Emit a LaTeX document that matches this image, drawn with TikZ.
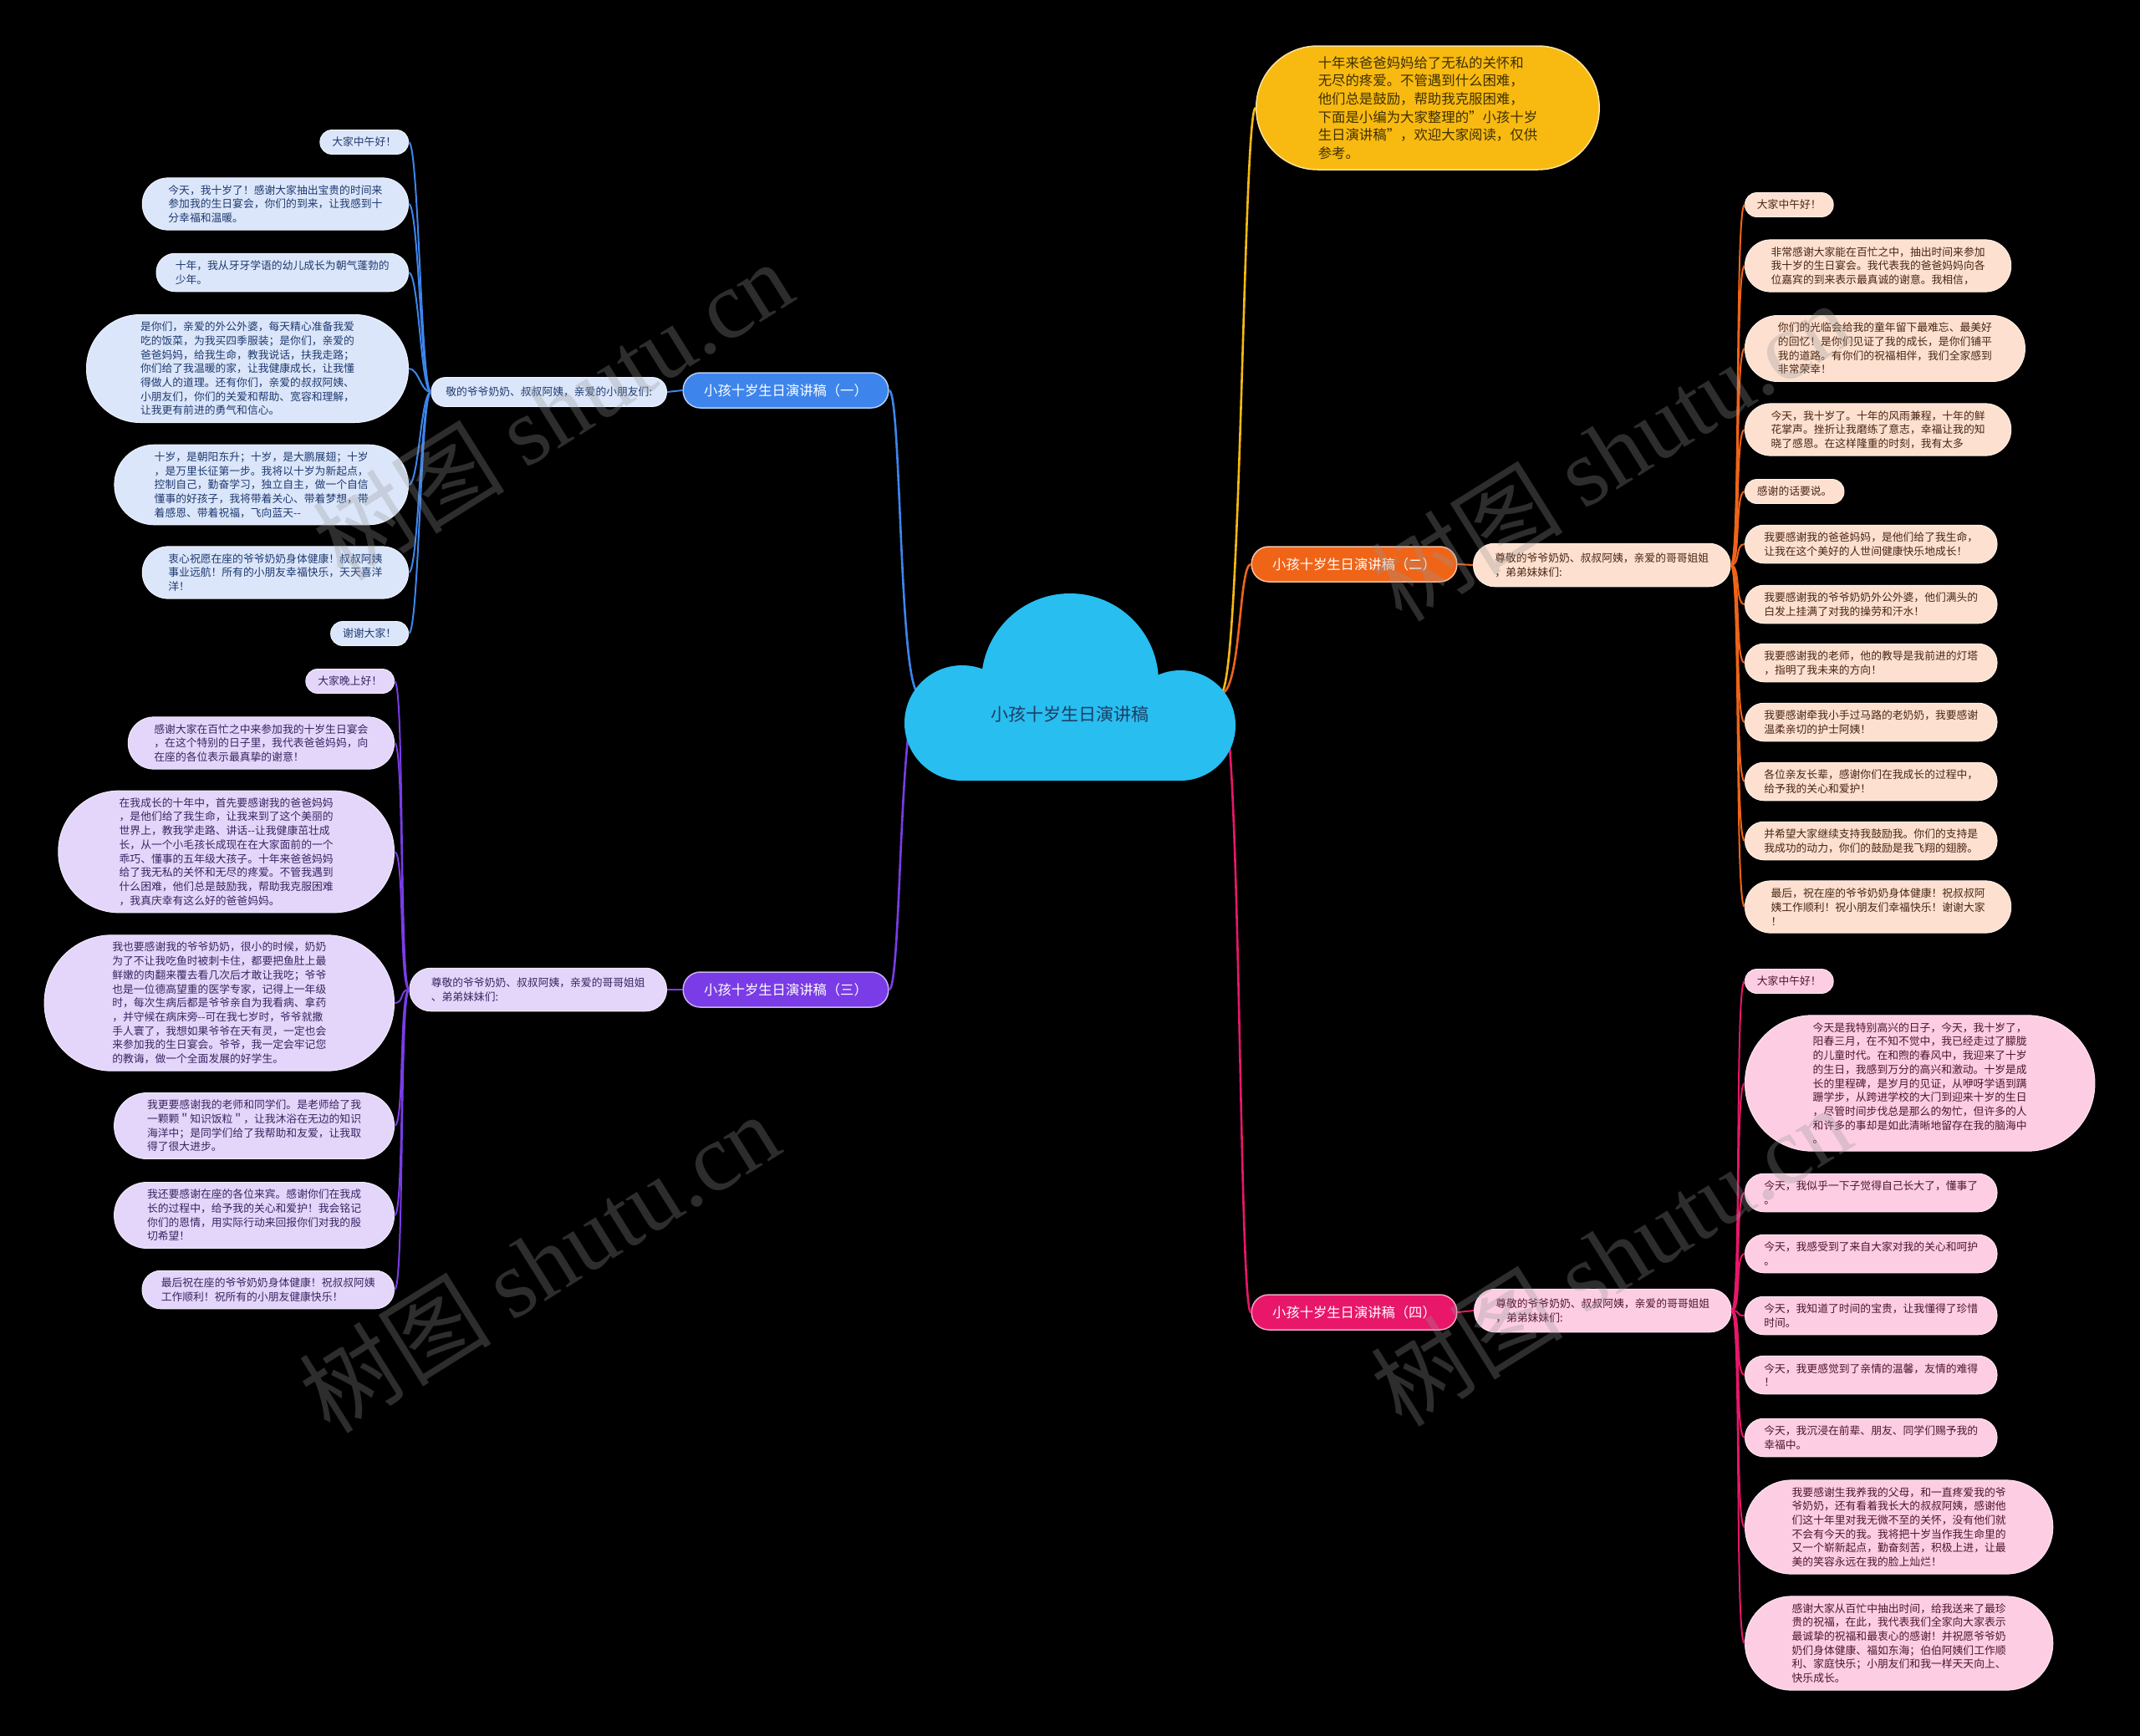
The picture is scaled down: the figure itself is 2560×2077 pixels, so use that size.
\documentclass[tikz,border=0pt]{standalone}
\usepackage{fontspec}
\setmainfont{Noto Sans CJK SC}
\newfontfamily\wmlatin{Liberation Serif}
\usepackage{tikz}
\usetikzlibrary{positioning}

\definecolor{cloudblue}{HTML}{28BEF0}
\definecolor{roottext}{HTML}{1C3D63}
\definecolor{bluemain}{HTML}{3D85EC}
\definecolor{bluefill}{HTML}{DCE6FA}
\definecolor{bluetext}{HTML}{1E3A70}
\definecolor{purplemain}{HTML}{7A3CE6}
\definecolor{purplefill}{HTML}{E3D6FA}
\definecolor{purpletext}{HTML}{3A2461}
\definecolor{orangemain}{HTML}{F06418}
\definecolor{orangefill}{HTML}{FDE0CF}
\definecolor{orangetext}{HTML}{4A2515}
\definecolor{pinkmain}{HTML}{E8176A}
\definecolor{pinkfill}{HTML}{FCCDE3}
\definecolor{pinktext}{HTML}{4F1530}
\definecolor{yellowmain}{HTML}{F8BA10}
\definecolor{yellowtext}{HTML}{3F3000}
\definecolor{wmgray}{RGB}{150,150,150}

\newcommand\leaffont{\fontsize{12.8}{16.7}\selectfont}
\newcommand\branchfont{\fontsize{16.3}{18}\selectfont}
\newcommand\rootfont{\fontsize{21}{24}\selectfont}
\newcommand\notefont{\fontsize{16.4}{21.7}\selectfont}

\tikzset{
  % #1 = number of text lines
  leaf/.style={rectangle, align=left, font=\leaffont, line width=1pt, inner ysep=0pt,
    minimum height={(#1-1)*16.7pt+28.8pt},
    inner xsep={(#1-1)*8.35pt+14.4pt},
    rounded corners={(#1-1)*8.35pt+14pt}},
  leaf/.default=1,
  greet/.style={rectangle, align=left, font=\leaffont, line width=1pt, inner ysep=0pt,
    minimum height={(#1-1)*16.7pt+34.8pt},
    inner xsep={(#1-1)*8.35pt+17.4pt},
    rounded corners={(#1-1)*8.35pt+17pt}},
  greet/.default=1,
  branch/.style={rectangle, rounded corners=20.5pt, minimum height=42pt, inner ysep=0pt,
    inner xsep=25pt, font=\branchfont, text=white, line width=1.5pt},
  blueleaf/.style={fill=bluefill, draw=bluefill!50!white, text=bluetext},
  purpleleaf/.style={fill=purplefill, draw=purplefill!50!white, text=purpletext},
  orangeleaf/.style={fill=orangefill, draw=orangefill!50!white, text=orangetext},
  pinkleaf/.style={fill=pinkfill, draw=pinkfill!50!white, text=pinktext},
  link/.style={line width=2pt},
  mainlink/.style={line width=2.6pt},
  watermark/.style={rotate=32, text=wmgray, text opacity=0.3, font=\fontsize{115}{115}\selectfont},
}

\begin{document}
\begin{tikzpicture}[x=1pt,y=-1pt]
\fill[black] (0,0) rectangle (2560,2077);
\useasboundingbox (0,0) rectangle (2560,2077);

% branch nodes
\node[branch, fill=bluemain, draw=bluemain!40!white] (one) at (940,467) {小孩十岁生日演讲稿（一）};
\node[branch, fill=orangemain, draw=orangemain!40!white] (two) at (1620,675) {小孩十岁生日演讲稿（二）};
\node[branch, fill=purplemain, draw=purplemain!40!white] (three) at (940,1184) {小孩十岁生日演讲稿（三）};
\node[branch, fill=pinkmain, draw=pinkmain!40!white] (four) at (1620,1570) {小孩十岁生日演讲稿（四）};

\node[rectangle, rounded corners=73.5pt, minimum height=148pt, inner ysep=0pt, inner xsep=74pt,
  fill=yellowmain, draw=yellowmain!40!white, line width=1.5pt, text=yellowtext,
  font=\notefont, align=left, anchor=west] (intro) at (1502,129)
  {十年来爸爸妈妈给了无私的关怀和\\无尽的疼爱。不管遇到什么困难，\\他们总是鼓励，帮助我克服困难，\\下面是小编为大家整理的"小孩十岁\\生日演讲稿"，欢迎大家阅读，仅供\\参考。};

% greetings
\node[greet, blueleaf, anchor=east] (greet1) at (798,469) {敬的爷爷奶奶、叔叔阿姨，亲爱的小朋友们:};
\node[greet=2, orangeleaf, anchor=west] (greet2) at (1762,676) {尊敬的爷爷奶奶、叔叔阿姨，亲爱的哥哥姐姐\\，弟弟妹妹们:};
\node[greet=2, purpleleaf, anchor=east] (greet3) at (798,1184) {尊敬的爷爷奶奶、叔叔阿姨，亲爱的哥哥姐姐\\、弟弟妹妹们:};
\node[greet=2, pinkleaf, anchor=west] (greet4) at (1763,1568) {尊敬的爷爷奶奶、叔叔阿姨，亲爱的哥哥姐姐\\，弟弟妹妹们:};

% branch one
\node[leaf, blueleaf, anchor=east] (b1) at (489,170) {大家中午好！};
\node[leaf=3, blueleaf, anchor=east] (b2) at (489,244) {今天，我十岁了！感谢大家抽出宝贵的时间来\\参加我的生日宴会，你们的到来，让我感到十\\分幸福和温暖。};
\node[leaf=2, blueleaf, anchor=east] (b3) at (489,326) {十年，我从牙牙学语的幼儿成长为朝气蓬勃的\\少年。};
\node[leaf=7, blueleaf, anchor=east] (b4) at (489,441) {是你们，亲爱的外公外婆，每天精心准备我爱\\吃的饭菜，为我买四季服装；是你们，亲爱的\\爸爸妈妈，给我生命，教我说话，扶我走路；\\你们给了我温暖的家，让我健康成长，让我懂\\得做人的道理。还有你们，亲爱的叔叔阿姨、\\小朋友们，你们的关爱和帮助、宽容和理解，\\让我更有前进的勇气和信心。};
\node[leaf=5, blueleaf, anchor=east] (b5) at (489,580) {十岁，是朝阳东升；十岁，是大鹏展翅；十岁\\，是万里长征第一步。我将以十岁为新起点，\\控制自己，勤奋学习，独立自主，做一个自信\\懂事的好孩子，我将带着关心、带着梦想，带\\着感恩、带着祝福，飞向蓝天-{}-};
\node[leaf=3, blueleaf, anchor=east] (b6) at (489,685) {衷心祝愿在座的爷爷奶奶身体健康！叔叔阿姨\\事业远航！所有的小朋友幸福快乐，天天喜洋\\洋！};
\node[leaf, blueleaf, anchor=east] (b7) at (489,758) {谢谢大家！};

% branch two
\node[leaf, orangeleaf, anchor=west] (o1) at (2087,245) {大家中午好！};
\node[leaf=3, orangeleaf, anchor=west] (o2) at (2087,318) {非常感谢大家能在百忙之中，抽出时间来参加\\我十岁的生日宴会。我代表我的爸爸妈妈向各\\位嘉宾的到来表示最真诚的谢意。我相信，};
\node[leaf=4, orangeleaf, anchor=west] (o3) at (2087,417) {你们的光临会给我的童年留下最难忘、最美好\\的回忆！是你们见证了我的成长，是你们铺平\\我的道路。有你们的祝福相伴，我们全家感到\\非常荣幸！};
\node[leaf=3, orangeleaf, anchor=west] (o4) at (2087,514) {今天，我十岁了。十年的风雨兼程，十年的鲜\\花掌声。挫折让我磨练了意志，幸福让我的知\\晓了感恩。在这样隆重的时刻，我有太多};
\node[leaf, orangeleaf, anchor=west] (o5) at (2087,588) {感谢的话要说。};
\node[leaf=2, orangeleaf, anchor=west] (o6) at (2087,651) {我要感谢我的爸爸妈妈，是他们给了我生命，\\让我在这个美好的人世间健康快乐地成长！};
\node[leaf=2, orangeleaf, anchor=west] (o7) at (2087,723) {我要感谢我的爷爷奶奶外公外婆，他们满头的\\白发上挂满了对我的操劳和汗水！};
\node[leaf=2, orangeleaf, anchor=west] (o8) at (2087,793) {我要感谢我的老师，他的教导是我前进的灯塔\\，指明了我未来的方向！};
\node[leaf=2, orangeleaf, anchor=west] (o9) at (2087,864) {我要感谢牵我小手过马路的老奶奶，我要感谢\\温柔亲切的护士阿姨！};
\node[leaf=2, orangeleaf, anchor=west] (o10) at (2087,935) {各位亲友长辈，感谢你们在我成长的过程中，\\给予我的关心和爱护！};
\node[leaf=2, orangeleaf, anchor=west] (o11) at (2087,1006) {并希望大家继续支持我鼓励我。你们的支持是\\我成功的动力，你们的鼓励是我飞翔的翅膀。};
\node[leaf=3, orangeleaf, anchor=west] (o12) at (2087,1085) {最后，祝在座的爷爷奶奶身体健康！祝叔叔阿\\姨工作顺利！祝小朋友们幸福快乐！谢谢大家\\！};

% branch three
\node[leaf, purpleleaf, anchor=east] (p1) at (472,815) {大家晚上好！};
\node[leaf=3, purpleleaf, anchor=east] (p2) at (472,889) {感谢大家在百忙之中来参加我的十岁生日宴会\\，在这个特别的日子里，我代表爸爸妈妈，向\\在座的各位表示最真挚的谢意！};
\node[leaf=8, purpleleaf, anchor=east] (p3) at (472,1019) {在我成长的十年中，首先要感谢我的爸爸妈妈\\，是他们给了我生命，让我来到了这个美丽的\\世界上，教我学走路、讲话-{}-让我健康茁壮成\\长，从一个小毛孩长成现在在大家面前的一个\\乖巧、懂事的五年级大孩子。十年来爸爸妈妈\\给了我无私的关怀和无尽的疼爱。不管我遇到\\什么困难，他们总是鼓励我，帮助我克服困难\\，我真庆幸有这么好的爸爸妈妈。};
\node[leaf=9, purpleleaf, anchor=east] (p4) at (472,1200) {我也要感谢我的爷爷奶奶，很小的时候，奶奶\\为了不让我吃鱼时被刺卡住，都要把鱼肚上最\\鲜嫩的肉翻来覆去看几次后才敢让我吃；爷爷\\也是一位德高望重的医学专家，记得上一年级\\时，每次生病后都是爷爷亲自为我看病、拿药\\，并守候在病床旁-{}-可在我七岁时，爷爷就撒\\手人寰了，我想如果爷爷在天有灵，一定也会\\来参加我的生日宴会。爷爷，我一定会牢记您\\的教诲，做一个全面发展的好学生。};
\node[leaf=4, purpleleaf, anchor=east] (p5) at (472,1347) {我更要感谢我的老师和同学们。是老师给了我\\一颗颗＂知识饭粒＂，让我沐浴在无边的知识\\海洋中；是同学们给了我帮助和友爱，让我取\\得了很大进步。};
\node[leaf=4, purpleleaf, anchor=east] (p6) at (472,1454) {我还要感谢在座的各位来宾。感谢你们在我成\\长的过程中，给予我的关心和爱护！我会铭记\\你们的恩情，用实际行动来回报你们对我的殷\\切希望！};
\node[leaf=2, purpleleaf, anchor=east] (p7) at (472,1543) {最后祝在座的爷爷奶奶身体健康！祝叔叔阿姨\\工作顺利！祝所有的小朋友健康快乐！};

% branch four
\node[leaf, pinkleaf, anchor=west] (k1) at (2087,1174) {大家中午好！};
\node[leaf=9, pinkleaf, anchor=west] (k2) at (2087,1296) {今天是我特别高兴的日子，今天，我十岁了，\\阳春三月，在不知不觉中，我已经走过了朦胧\\的儿童时代。在和煦的春风中，我迎来了十岁\\的生日，我感到万分的高兴和激动。十岁是成\\长的里程碑，是岁月的见证，从咿呀学语到蹒\\跚学步，从跨进学校的大门到迎来十岁的生日\\，尽管时间步伐总是那么的匆忙，但许多的人\\和许多的事却是如此清晰地留存在我的脑海中\\。};
\node[leaf=2, pinkleaf, anchor=west] (k3) at (2087,1427) {今天，我似乎一下子觉得自己长大了，懂事了\\。};
\node[leaf=2, pinkleaf, anchor=west] (k4) at (2087,1500) {今天，我感受到了来自大家对我的关心和呵护\\。};
\node[leaf=2, pinkleaf, anchor=west] (k5) at (2087,1574) {今天，我知道了时间的宝贵，让我懂得了珍惜\\时间。};
\node[leaf=2, pinkleaf, anchor=west] (k6) at (2087,1645) {今天，我更感觉到了亲情的温馨，友情的难得\\！};
\node[leaf=2, pinkleaf, anchor=west] (k7) at (2087,1720) {今天，我沉浸在前辈、朋友、同学们赐予我的\\幸福中。};
\node[leaf=6, pinkleaf, anchor=west] (k8) at (2087,1827) {我要感谢生我养我的父母，和一直疼爱我的爷\\爷奶奶，还有看着我长大的叔叔阿姨，感谢他\\们这十年里对我无微不至的关怀，没有他们就\\不会有今天的我。我将把十岁当作我生命里的\\又一个崭新起点，勤奋刻苦，积极上进，让最\\美的笑容永远在我的脸上灿烂！};
\node[leaf=6, pinkleaf, anchor=west] (k9) at (2087,1966) {感谢大家从百忙中抽出时间，给我送来了最珍\\贵的祝福，在此，我代表我们全家向大家表示\\最诚挚的祝福和最衷心的感谢！并祝愿爷爷奶\\奶们身体健康、福如东海；伯伯阿姨们工作顺\\利、家庭快乐；小朋友们和我一样天天向上、\\快乐成长。};

% connectors
\coordinate (rootW) at (1100,830);
\coordinate (rootE) at (1460,830);
\draw[mainlink, bluemain] (rootW) .. controls +(-25,0) and +(15,0) .. (one.east);
\draw[mainlink, purplemain] (rootW) .. controls +(-25,0) and +(15,0) .. (three.east);
\draw[mainlink, yellowmain] (rootE) .. controls +(25,0) and +(-15,0) .. (intro.west);
\draw[mainlink, orangemain] (rootE) .. controls +(25,0) and +(-15,0) .. (two.west);
\draw[mainlink, pinkmain] (rootE) .. controls +(25,0) and +(-15,0) .. (four.west);

\draw[link, bluemain] (one.west) -- (greet1.east);
\draw[link, orangemain] (two.east) -- (greet2.west);
\draw[link, purplemain] (three.west) -- (greet3.east);
\draw[link, pinkmain] (four.east) -- (greet4.west);

\foreach \i in {1,...,7}
  \draw[link, bluemain] (greet1.west) .. controls +(-12,0) and +(12,0) .. (b\i.east);
\foreach \i in {1,...,12}
  \draw[link, orangemain] (greet2.east) .. controls +(12,0) and +(-12,0) .. (o\i.west);
\foreach \i in {1,...,7}
  \draw[link, purplemain] (greet3.west) .. controls +(-12,0) and +(12,0) .. (p\i.east);
\foreach \i in {1,...,9}
  \draw[link, pinkmain] (greet4.east) .. controls +(12,0) and +(-12,0) .. (k\i.west);

% cloud
\fill[cloudblue] (1151,865) circle (69pt);
\fill[cloudblue] (1412,868) circle (66pt);
\fill[cloudblue] (1280,816) circle (106pt);
\fill[cloudblue] (1151,865) rectangle (1412,934);
\node[font=\rootfont, text=roottext] (root) at (1280,854) {小孩十岁生日演讲稿};

% watermarks
\node[watermark] (wm1) at (661,490) {树图 {\wmlatin shutu.cn}};
\node[watermark] (wm2) at (645,1510) {树图 {\wmlatin shutu.cn}};
\node[watermark] (wm3) at (1927,539) {树图 {\wmlatin shutu.cn}};
\node[watermark] (wm4) at (1927,1502) {树图 {\wmlatin shutu.cn}};
\end{tikzpicture}
\end{document}
